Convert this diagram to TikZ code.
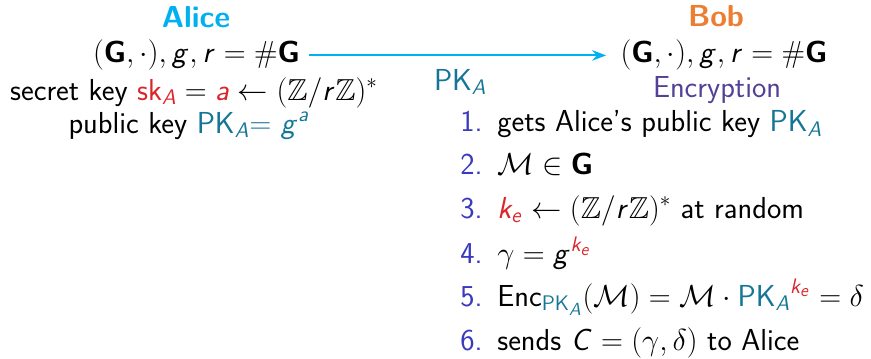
\documentclass[tikz,border=0pt]{standalone}
\usepackage{amsmath}
\usepackage{amssymb}
\usetikzlibrary{arrows.meta, positioning}
\DeclareMathAlphabet{\mathsfit}{OT1}{cmss}{m}{sl}
\DeclareMathAlphabet{\mathsfbf}{OT1}{cmss}{bx}{n}
\definecolor{alicecol}{RGB}{0,176,240}
\definecolor{bobcol}{RGB}{237,125,49}
\definecolor{pkcol}{RGB}{20,118,150}
\definecolor{skcol}{RGB}{218,37,43}
\definecolor{enccol}{RGB}{84,64,150}
\definecolor{numcol}{RGB}{58,58,190}
\newcommand{\pkA}{\textcolor{pkcol}{\mathsf{PK}_{\mathsfit{A}}}}
\newcommand{\kE}{\textcolor{skcol}{\mathsfit{k}_{\mathsfit{e}}}}
\newcommand{\grpG}{\mathsfbf{G}}
\newcommand{\stepno}[1]{\makebox[0.74cm][l]{\textcolor{numcol}{#1.}}}

\begin{document}
\begin{tikzpicture}[font=\LARGE\sffamily,>=Stealth,
     who/.style={font=\LARGE\sffamily\bfseries,anchor=base},
     info/.style={anchor=base,inner sep=1pt},
     listrow/.style={anchor=base west,inner sep=0pt}]
    \useasboundingbox (0,0) rectangle (17.42,-7.16);
    % Alice
    \node[who,text=alicecol] (alice) at (3.92,-0.56) {Alice};
    \node[info] (agrp) at (3.93,-1.26) {$(\grpG,\cdot),\mathsfit{g},\mathsfit{r}=\#\grpG$};
    \node[info] (ask) at (3.88,-2.00) {secret key $\textcolor{skcol}{\mathsf{sk}_{\mathsfit{A}}}=\textcolor{skcol}{\mathsfit{a}}\leftarrow(\mathbb{Z}/\mathsfit{r}\mathbb{Z})^*$};
    \node[info] (apk) at (3.78,-2.66) {public key \textcolor{pkcol}{PK$_{\mathsfit{A}}$= $\mathsfit{g}^{\mathsfit{a}}$}};
    % Bob
    \node[who,text=bobcol] (bob) at (14.32,-0.54) {Bob};
    \node[info] (bgrp) at (14.48,-1.26) {$(\grpG,\cdot),\mathsfit{g},\mathsfit{r}=\#\grpG$};
    \node[info,text=enccol] (enc) at (14.34,-1.94) {Encryption};
    \draw[->,alicecol,line width=1.1pt,shorten <=4pt,shorten >=7pt] (agrp) -- node[below=4pt] (pk) {$\pkA$} (bgrp);
    % Bob's steps
    \node[listrow] (s1) at (9.2,-2.63) {\stepno{1}gets Alice's public key $\pkA$};
    \node[listrow] (s2) at (9.2,-3.48) {\stepno{2}$\mathcal{M}\in\grpG$};
    \node[listrow] (s3) at (9.2,-4.36) {\stepno{3}$\kE\leftarrow(\mathbb{Z}/\mathsfit{r}\mathbb{Z})^*$ at random};
    \node[listrow] (s4) at (9.2,-5.26) {\stepno{4}$\gamma=\mathsfit{g}^{\kE}$};
    \node[listrow] (s5) at (9.2,-6.12) {\stepno{5}$\mathsf{Enc}_{\pkA}(\mathcal{M})=\mathcal{M}\cdot{\pkA}^{\kE}=\delta$};
    \node[listrow] (s6) at (9.2,-7.00) {\stepno{6}sends $\mathsfit{C}=(\gamma,\delta)$ to Alice};
\end{tikzpicture}
\end{document}
